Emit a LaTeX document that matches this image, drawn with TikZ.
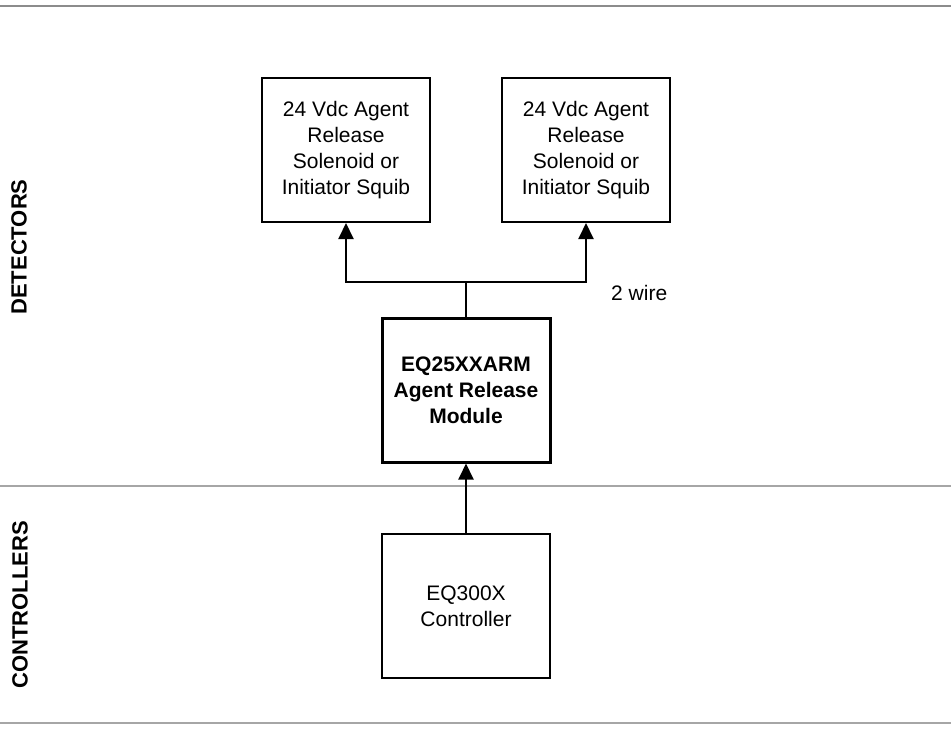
\documentclass[tikz,border=0pt]{standalone}
\usepackage{fontspec}
\setmainfont{Liberation Sans}
\usetikzlibrary{arrows.meta}
\begin{document}
\begin{tikzpicture}[x=1pt,y=-1pt,
  box/.style={draw=black,line width=2pt,minimum width=168pt,minimum height=144pt,align=center,inner sep=0pt,font=\fontsize{21}{26}\selectfont},
  thickbox/.style={box,line width=3pt,font=\fontsize{21}{26}\selectfont\bfseries},
  conn/.style={line width=2pt,draw=black},
  arr/.style={conn,-{Triangle[length=16pt,width=15pt]}},
  sep/.style={line width=2pt,draw=black!45},
  lab/.style={font=\fontsize{22}{26}\selectfont\bfseries,rotate=90}]
\useasboundingbox (0,0) rectangle (951,729);
\draw[sep] (0,6) -- (951,6);
\draw[sep,draw=black!35] (0,486) -- (951,486);
\draw[sep,draw=black!35] (0,723) -- (951,723);
\node[lab] (det) at (19,247) {DETECTORS};
\node[lab] (ctl) at (20,605) {CONTROLLERS};
\node[box] (sa) at (346,150) {24 Vdc Agent\\Release\\Solenoid or\\Initiator Squib};
\node[box] (sb) at (586,150) {24 Vdc Agent\\Release\\Solenoid or\\Initiator Squib};
\node[thickbox] (arm) at (466,390) {EQ25XXARM\\Agent Release\\Module};
\node[box] (eq) at (466,606) {EQ300X\\Controller};
\coordinate (j) at (466,282);
\draw[conn] (arm.north) -- (j);
\draw[arr] (j) -| (sa.south);
\draw[arr] (j) -| (sb.south);
\draw[arr] (eq.north) -- (arm.south);
\node[anchor=west,font=\fontsize{21}{26}\selectfont,inner sep=0pt] (w) at (611,293) {2 wire};
\end{tikzpicture}
\end{document}
